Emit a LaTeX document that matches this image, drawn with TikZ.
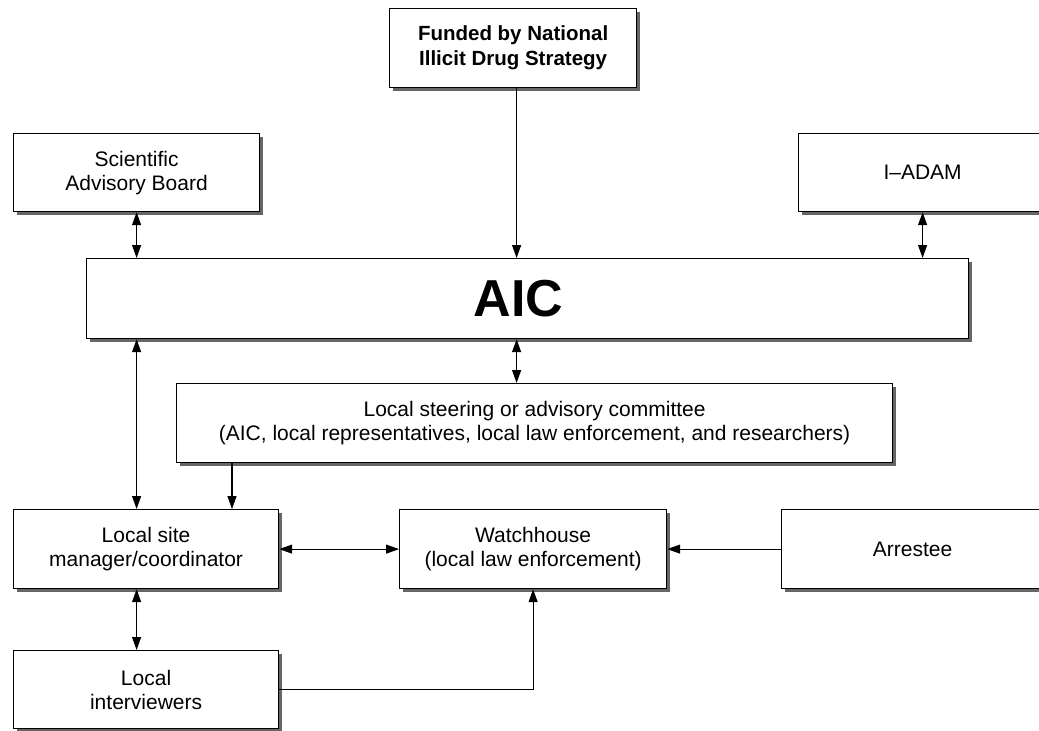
\documentclass[tikz,border=0pt]{standalone}
\usepackage{fontspec}
\setmainfont{Liberation Sans}
\usepackage{tikz}
\usetikzlibrary{calc,shadows,arrows.meta}

\tikzset{
  box/.style={draw,thick,fill=white,line width=1.2pt,inner sep=0pt,align=center,anchor=north west,
    drop shadow={shadow xshift=3pt,shadow yshift=-3pt,fill=black!60,opacity=1},
    font=\fontsize{21}{24}\selectfont},
  link/.style={line width=1.1pt,-{Triangle[length=13pt,width=9pt]}},
  both/.style={line width=1.1pt,{Triangle[length=13pt,width=9pt]}-{Triangle[length=13pt,width=9pt]}}
}

\begin{document}
\begin{tikzpicture}[x=1pt,y=-1pt]
        \clip (0,0) rectangle (1039,731);
        \fill [white] (0,0) rectangle (1039,731);
      \node [box,minimum width=247pt,minimum height=79pt,font=\fontsize{20.5}{25}\selectfont\bfseries] (fund) at (389,8) {Funded by National\\Illicit Drug Strategy};
      \node [box,minimum width=246pt,minimum height=78pt] (sab) at (13,133) {Scientific\\Advisory Board};
      \node [box,minimum width=248pt,minimum height=78pt] (iadam) at (798,133) {I--ADAM};
      \node [box,minimum width=882pt,minimum height=80pt,font=\fontsize{52}{56}\selectfont\bfseries] (aic) at (86,258) {AIC\hspace*{18pt}};
      \node [box,minimum width=716pt,minimum height=79pt] (steer) at (176,383) {Local steering or advisory committee\\(AIC, local representatives, local law enforcement, and researchers)};
      \node [box,minimum width=265pt,minimum height=79pt] (site) at (13,509) {Local site\\manager/coordinator};
      \node [box,minimum width=267pt,minimum height=79pt] (watch) at (399,509) {Watchhouse\\(local law enforcement)};
      \node [box,minimum width=262pt,minimum height=79pt] (arrest) at (781,509) {Arrestee};
      \node [box,minimum width=265pt,minimum height=78pt] (intv) at (13,650) {Local\\interviewers};
        \coordinate (fx) at ($(fund.south)+(3.5,0)$);
        \coordinate (sx) at ($(steer.south west)+(56,0)$);
        \draw [link] (fx) -- (fx |- aic.north);
        \draw [both] (sab.south) -- (sab.south |- aic.north);
        \draw [both] (iadam.south) -- (iadam.south |- aic.north);
        \draw [both] (aic.south -| fx) -- (steer.north -| fx);
        \draw [both] (aic.south -| sab.south) -- (site.north -| sab.south);
        \draw [link] (sx) -- (sx |- site.north);
        \draw [both] (site.east) -- (watch.west);
        \draw [link] (arrest.west) -- (watch.east);
        \draw [both] (site.south -| sab.south) -- (intv.north -| sab.south);
        \draw [link] (intv.east) -| (watch.south);
    \end{tikzpicture}
\end{document}
